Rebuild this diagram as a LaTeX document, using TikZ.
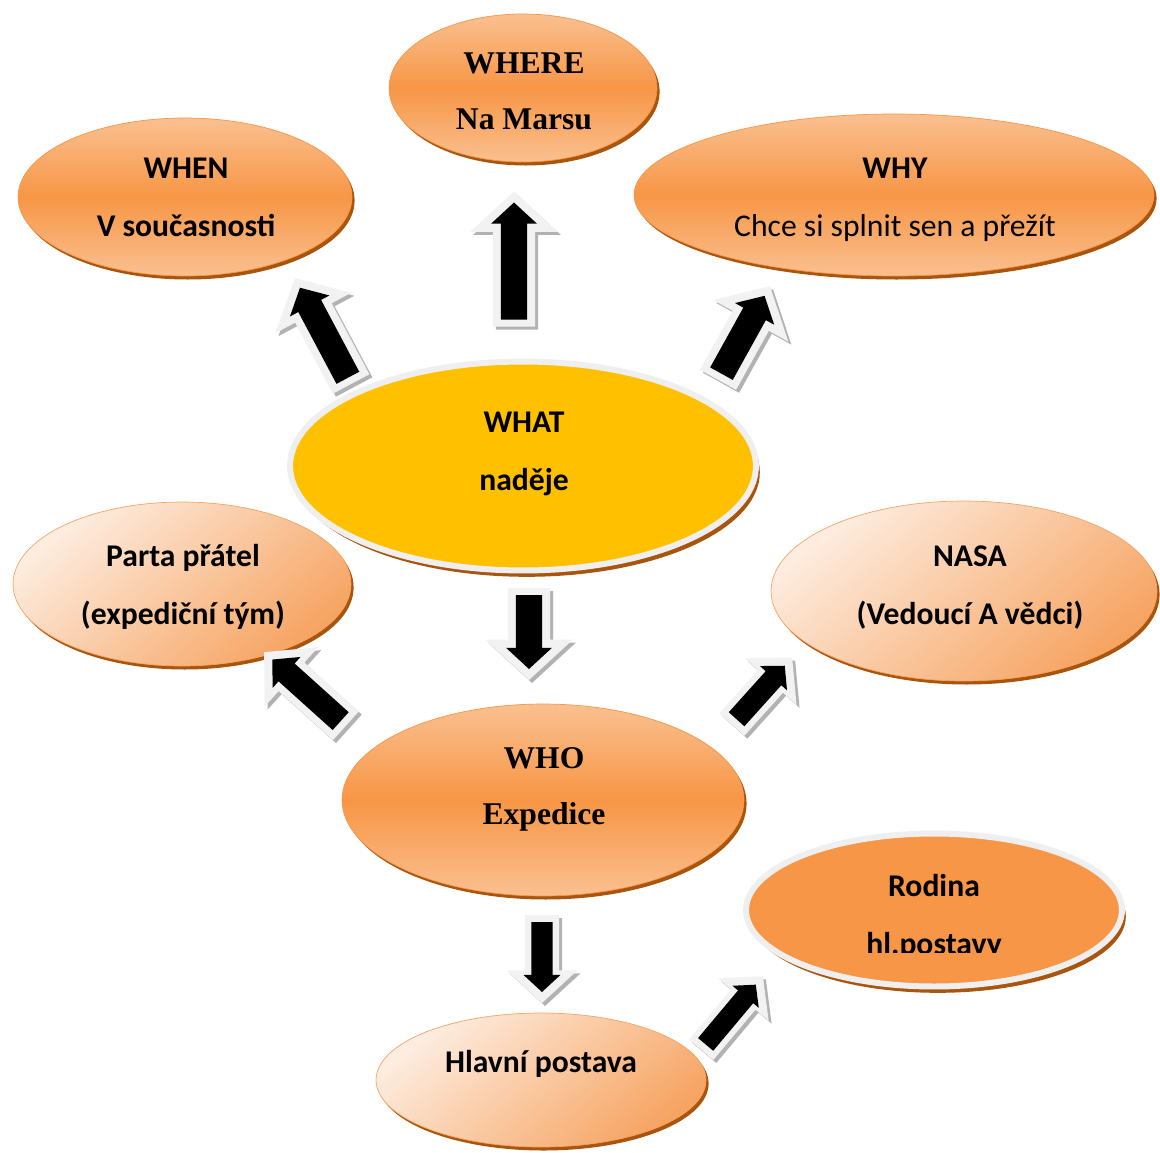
\documentclass[tikz,border=0pt]{standalone}
\usepackage{fontspec}
\setmainfont{Carlito}
\newfontfamily\timesfont{Liberation Serif}
\usetikzlibrary{shapes.geometric,shadows}

\definecolor{omain}{HTML}{F79646}
\definecolor{olight}{HTML}{FAC090}
\definecolor{opale}{HTML}{FDEDE1}
\definecolor{opeach}{HTML}{F6A462}
\definecolor{orim}{HTML}{A9550D}
\definecolor{whatyellow}{HTML}{FFC000}
\definecolor{ringgray}{HTML}{EFEFEF}
\definecolor{arrowgray}{HTML}{F2F2F2}

\tikzset{
  ball/.style={ellipse, inner sep=0pt, draw=omain, line width=0.4pt,
    drop shadow={shadow xshift=1.5pt, shadow yshift=-2pt, fill=orim, opacity=1}},
  orangeball/.style={ball, top color=olight, bottom color=olight, middle color=omain},
  paleball/.style={ball, draw=opeach, top color=opale, bottom color=opeach, shading angle=40},
  ringball/.style={ellipse, inner sep=0pt, draw=ringgray, line width=3.4pt,
    drop shadow={shadow xshift=2.2pt, shadow yshift=-3.6pt, fill=orim, opacity=1}},
  txt/.style={align=center, font=\fontsize{18}{33}\selectfont\bfseries},
  txtrm/.style={align=center, font=\fontsize{18}{32}\selectfont\timesfont\bfseries},
}

\begin{document}
\begin{tikzpicture}[x=0.02cm, y=-0.02cm]
  \useasboundingbox (0,0) rectangle (1160,1153);

  % Ellipsen
  \node[orangeball, minimum width=5.36cm, minimum height=2.96cm] (where) at (523,88) {};
  \node[orangeball, minimum width=6.68cm, minimum height=3.16cm] (when) at (185,197) {};
  \node[orangeball, minimum width=10.4cm, minimum height=3.24cm] (why) at (894,195) {};
  \node[ringball, fill=whatyellow, minimum width=9.32cm, minimum height=4.18cm] (what) at (523,466) {};
  \node[paleball, minimum width=6.76cm, minimum height=3.28cm] (parta) at (182,584) {};
  \node[paleball, minimum width=7.72cm, minimum height=3.6cm] (nasa) at (964,591) {};
  \node[orangeball, minimum width=8.04cm, minimum height=3.84cm] (who) at (543,800) {};
  \node[ringball, fill=omain, minimum width=7.52cm, minimum height=3.06cm] (rodina) at (934,910) {};
  \node[paleball, minimum width=6.6cm, minimum height=2.68cm] (hlavni) at (541,1080) {};

  % Texte
  \node[txtrm] (wheretext) at (524,91) {WHERE\\Na Marsu};
  \node[txt] (whentext) at (186,197) {WHEN\\V současnosti};
  \node[txt] (whytext) at (895,200) {WHY\\{\mdseries Chce si splnit sen a přežít}};
  \node[txt] (whattext) at (524,454) {WHAT\\naděje};
  \node[txt] (partatext) at (183,587) {Parta přátel\\(expediční tým)};
  \node[txt] (nasatext) at (970,588) {NASA\\(Vedoucí A vědci)};
  \node[txtrm] (whotext) at (544,789) {WHO\\Expedice};
  \begin{scope}
    \clip (740,820) rectangle (1130,952);
    \node[txt] (rodinatext) at (934,917) {Rodina\\hl.postavy};
  \end{scope}
  \node[txt] (hlavnitext) at (541,1064) {Hlavní postava};

  % Pfeile
  \foreach \cx/\cy/\a/\l/\w in {
      323/331/118/120/86,
      514/259/90/135/88,
      744/333/61/107/86,
      529/634/270/92/88,
      305/689/138/110/80,
      762/691/48/90/70,
      542/959/270/88/71,
      732/1013/50/96/66} {
    \pgfmathsetmacro\hl{\l/2}
    \pgfmathsetmacro\hs{0.24*\w}
    \pgfmathsetmacro\hw{\w/2}
    \pgfmathsetmacro\hd{\hl-0.46*\w}
    \pgfmathsetmacro\ib{7-\hl}
    \pgfmathsetmacro\it{\hl-11}
    \pgfmathsetmacro\ihs{0.15*\w}
    \pgfmathsetmacro\ihw{0.26*\w}
    \pgfmathsetmacro\ihd{\it-0.24*\w}
    \foreach \d/\c in {3/gray!60, 0/arrowgray}
      \fill[fill=\c, shift={(\cx+\d,\cy+\d)}, rotate=\a]
        (-\hl,-\hs) -- (\hd,-\hs) -- (\hd,-\hw) -- (\hl,0)
        -- (\hd,\hw) -- (\hd,\hs) -- (-\hl,\hs) -- cycle;
    \fill[black, shift={(\cx,\cy)}, rotate=\a]
      (\ib,-\ihs) -- (\ihd,-\ihs) -- (\ihd,-\ihw) -- (\it,0)
      -- (\ihd,\ihw) -- (\ihd,\ihs) -- (\ib,\ihs) -- cycle;
  }
\end{tikzpicture}
\end{document}
